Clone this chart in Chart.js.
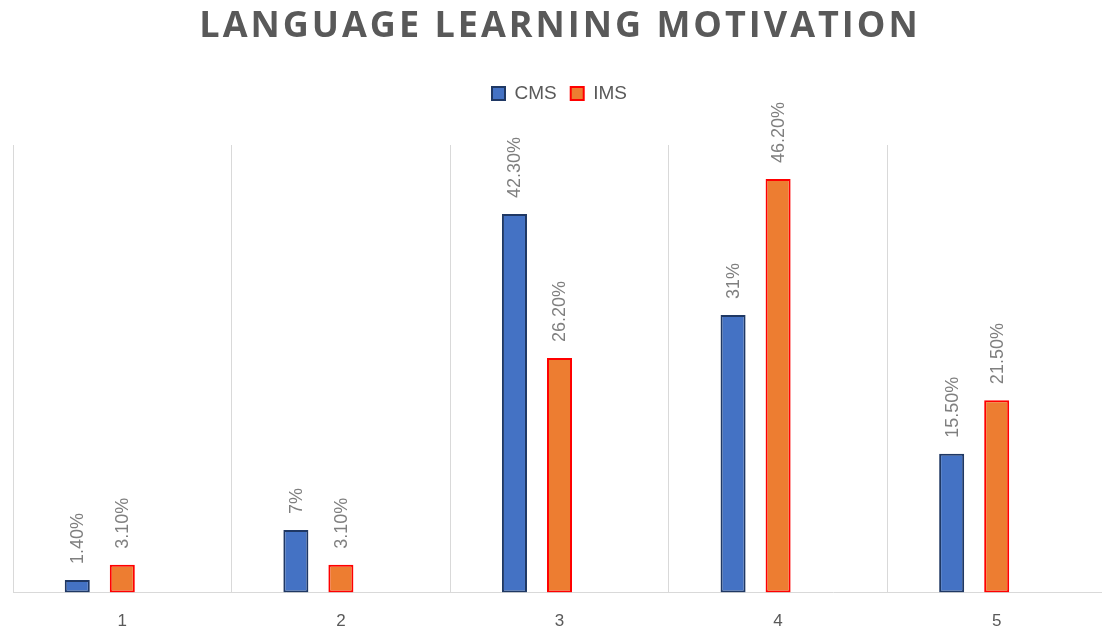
<!DOCTYPE html>
<html>
<head>
<meta charset="utf-8">
<script src="https://cdn.jsdelivr.net/npm/chart.js@4"></script>
<style>
  html, body { margin: 0; padding: 0; overflow: hidden; background: #fff; }
  #wrap { width: 1106px; height: 629px; }
</style>
</head>
<body>
<div id="wrap"><canvas id="grafico"></canvas></div>
<script>
const categorias = ["1", "2", "3", "4", "5"];
const valoresCMS = [1.4, 7, 42.3, 31, 15.5];
const valoresIMS = [3.1, 3.1, 26.2, 46.2, 21.5];
const rotulosCMS = ["1.40%", "7%", "42.30%", "31%", "15.50%"];
const rotulosIMS = ["3.10%", "3.10%", "26.20%", "46.20%", "21.50%"];
const titulo = "LANGUAGE LEARNING MOTIVATION";

const cinza = "#595959";

// rótulos verticais acima das barras
const rotulosPlugin = {
  id: "rotulos",
  afterDatasetsDraw(chart) {
    const ctx = chart.ctx;
    const listas = [rotulosCMS, rotulosIMS];
    listas.forEach((rotulos, i) => {
      const meta = chart.getDatasetMeta(i);
      meta.data.forEach((barra, j) => {
        ctx.save();
        ctx.translate(barra.x, barra.y - 16);
        ctx.rotate(-Math.PI / 2);
        ctx.font = "18px 'Liberation Sans', sans-serif";
        ctx.fillStyle = "#7f7f7f";
        ctx.textAlign = "left";
        ctx.textBaseline = "middle";
        ctx.fillText(rotulos[j], 0, 1);
        ctx.restore();
      });
    });
  }
};

// título com espaçamento entre letras
const tituloPlugin = {
  id: "tituloEspacado",
  afterDraw(chart) {
    const ctx = chart.ctx;
    ctx.save();
    ctx.font = "bold 36px 'Open Sans', sans-serif";
    ctx.letterSpacing = "3px";
    ctx.fillStyle = cinza;
    ctx.textAlign = "center";
    ctx.textBaseline = "middle";
    ctx.fillText(titulo, 560, 27);
    ctx.restore();
  }
};

// espaço extra abaixo da legenda
const margemLegenda = {
  id: "margemLegenda",
  beforeInit(chart) {
    const fitOriginal = chart.legend.fit;
    chart.legend.fit = function () {
      fitOriginal.bind(chart.legend)();
      this.height += 32;
    };
  }
};

new Chart(document.getElementById("grafico"), {
  type: "bar",
  data: {
    labels: categorias,
    datasets: [
      {
        label: "CMS",
        data: valoresCMS,
        backgroundColor: "#4472C4",
        borderColor: "#1F3864",
        borderWidth: 2,
        borderSkipped: false
      },
      {
        label: "IMS",
        data: valoresIMS,
        backgroundColor: "#ED7D31",
        borderColor: "#FF0000",
        borderWidth: 2,
        borderSkipped: false
      },
      {
        label: "",
        data: [null, null, null, null, null]
      }
    ]
  },
  options: {
    responsive: true,
    maintainAspectRatio: false,
    animation: false,
    categoryPercentage: 0.618,
    barPercentage: 0.556,
    layout: { padding: { left: 13, right: 0, top: 70, bottom: -22 } },
    plugins: {
      title: { display: false },
      tooltip: { enabled: false },
      legend: {
        position: "top",
        labels: {
          filter: item => item.text !== "",
          boxWidth: 13,
          boxHeight: 13,
          color: cinza,
          padding: 14,
          font: { family: "'Liberation Sans', sans-serif", size: 19 }
        }
      }
    },
    scales: {
      x: {
        grid: { offset: true, color: "#d9d9d9", lineWidth: 1, drawTicks: false },
        border: { color: "#d9d9d9" },
        ticks: { color: cinza, padding: 19, font: { family: "'Liberation Sans', sans-serif", size: 17 } }
      },
      y: {
        display: false,
        min: 0,
        max: 50
      }
    }
  },
  plugins: [rotulosPlugin, tituloPlugin, margemLegenda]
});
</script>
</body>
</html>
